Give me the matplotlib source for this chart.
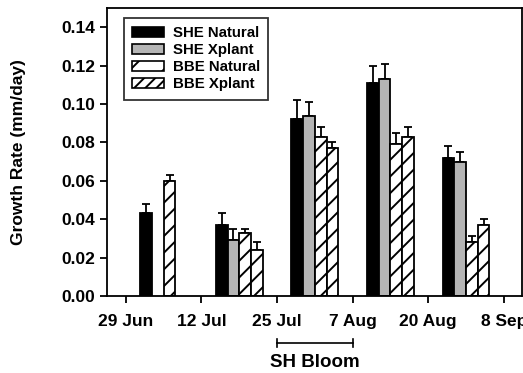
import matplotlib
matplotlib.use('Agg')
import matplotlib.pyplot as plt
from matplotlib.patches import Patch
from matplotlib.transforms import blended_transform_factory
import numpy as np

plt.rcParams['font.family'] = 'Liberation Sans'
plt.rcParams['font.weight'] = 'bold'
plt.rcParams['hatch.linewidth'] = 1.4

dates = ['29 Jun', '12 Jul', '25 Jul', '7 Aug', '20 Aug', '8 Sep']
series = ['SHE Natural', 'SHE Xplant', 'BBE Natural', 'BBE Xplant']

# growth rates per period (nan = no data)
she_nat = [0.043, 0.037, 0.092, 0.111, 0.072]
she_xp = [np.nan, 0.029, 0.094, 0.113, 0.070]
bbe_nat = [0.060, 0.033, 0.083, 0.079, 0.028]
bbe_xp = [np.nan, 0.024, 0.077, 0.083, 0.037]

she_nat_err = [0.005, 0.006, 0.010, 0.009, 0.006]
she_xp_err = [np.nan, 0.006, 0.007, 0.008, 0.005]
bbe_nat_err = [0.003, 0.002, 0.005, 0.006, 0.003]
bbe_xp_err = [np.nan, 0.004, 0.003, 0.005, 0.003]

vals = [she_nat, she_xp, bbe_nat, bbe_xp]
errs = [she_nat_err, she_xp_err, bbe_nat_err, bbe_xp_err]
faces = ['black', '#b5b5b5', 'white', 'white']
hatches = [None, None, '//', '//']
leg_hatches = [None, None, '/', '///']

fig = plt.figure(figsize=(5.23, 3.73), dpi=100)
ax = fig.add_axes([0.2046, 0.2064, 0.7934, 0.7722])

w = 0.155
centers = np.arange(len(dates) - 1) + 0.5
for i in range(4):
    x = centers + (i - 1.5) * w
    v = np.array(vals[i])
    e = np.array(errs[i])
    ax.bar(x, v, w, color=faces[i], edgecolor='black', linewidth=1.3,
           hatch=hatches[i], zorder=2)
    ax.errorbar(x, v, yerr=[np.zeros_like(e), e], fmt='none', ecolor='black',
                elinewidth=1.3, capsize=3, capthick=1.3, zorder=1)

ax.set_xlim(-0.25, 5.24)
ax.set_ylim(0, 0.15)
ax.set_xticks(np.arange(len(dates)))
ax.set_xticklabels(dates)
ax.set_yticks(np.arange(0, 0.141, 0.02))
ax.set_yticklabels(['%.2f' % t for t in np.arange(0, 0.141, 0.02)])
ax.tick_params(labelsize=12.5, width=1.3, length=5)
ax.tick_params(axis='x', pad=8)
for s in ax.spines.values():
    s.set_linewidth(1.3)
ax.set_ylabel('Growth Rate (mm/day)', fontsize=12.5, fontweight='bold')
ax.yaxis.set_label_coords(-0.195, 0.5)

handles = [Patch(facecolor=faces[i], edgecolor='black', hatch=leg_hatches[i],
                 linewidth=1.2, label=series[i]) for i in range(4)]
leg = ax.legend(handles=handles, loc='upper left', bbox_to_anchor=(0.041, 0.965),
                borderaxespad=0, fontsize=10.8, frameon=True, fancybox=False,
                edgecolor='black', handlelength=2.1, handleheight=0.6,
                labelspacing=0.2, borderpad=0.55, handletextpad=0.6)
leg.get_frame().set_linewidth(1.3)

# bloom period marker under the axis
tr = blended_transform_factory(ax.transData, ax.transAxes)
ax.plot([2, 3], [-0.163, -0.163], color='black', lw=1.2, transform=tr, clip_on=False)
for xx in [2, 3]:
    ax.plot([xx, xx], [-0.15, -0.176], color='black', lw=1.2, transform=tr, clip_on=False)
ax.text(2.5, -0.232, 'SH Bloom', transform=tr, ha='center', va='center', fontsize=13.5)

fig.savefig('out.png', dpi=100)
